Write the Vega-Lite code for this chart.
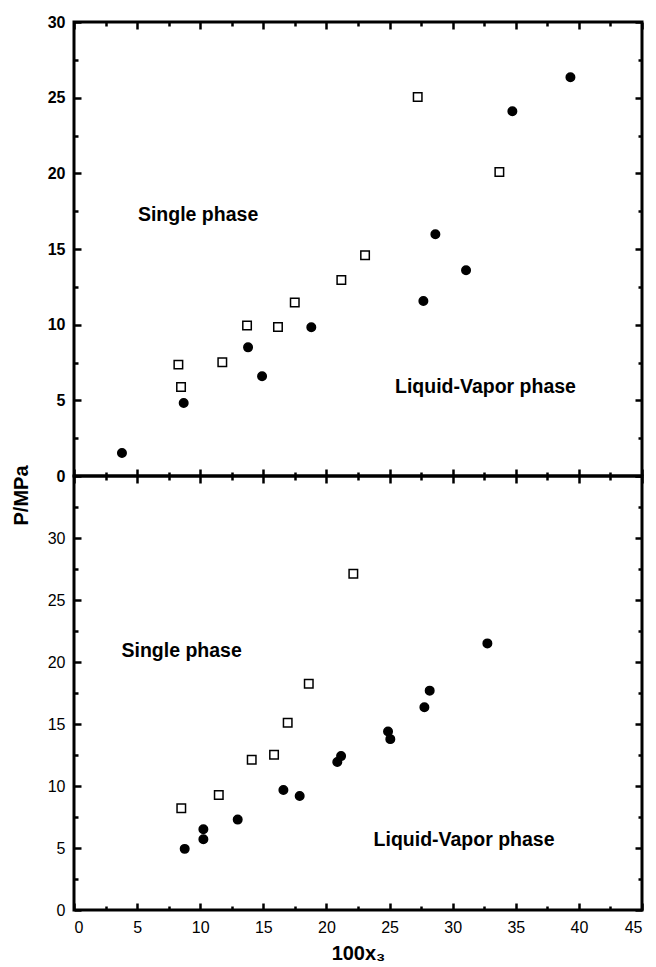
{
  "$schema": "https://vega.github.io/schema/vega-lite/v6.json",
  "background": "white",
  "padding": {"left": 9, "top": 12, "right": 8, "bottom": 5},
  "datasets": {
    "top": [
      {"x": 3.8, "p": 1.52, "series": "circle"},
      {"x": 8.69, "p": 4.82, "series": "circle"},
      {"x": 13.79, "p": 8.5, "series": "circle"},
      {"x": 14.9, "p": 6.59, "series": "circle"},
      {"x": 18.8, "p": 9.83, "series": "circle"},
      {"x": 27.68, "p": 11.57, "series": "circle"},
      {"x": 28.63, "p": 15.97, "series": "circle"},
      {"x": 31.06, "p": 13.6, "series": "circle"},
      {"x": 34.73, "p": 24.1, "series": "circle"},
      {"x": 39.33, "p": 26.35, "series": "circle"},
      {"x": 8.27, "p": 7.36, "series": "square"},
      {"x": 8.48, "p": 5.88, "series": "square"},
      {"x": 11.75, "p": 7.51, "series": "square"},
      {"x": 13.71, "p": 9.94, "series": "square"},
      {"x": 16.16, "p": 9.85, "series": "square"},
      {"x": 17.49, "p": 11.46, "series": "square"},
      {"x": 21.18, "p": 12.95, "series": "square"},
      {"x": 23.06, "p": 14.58, "series": "square"},
      {"x": 27.23, "p": 25.05, "series": "square"},
      {"x": 33.7, "p": 20.09, "series": "square"}
    ],
    "bottom": [
      {"x": 8.77, "p": 4.93, "series": "circle"},
      {"x": 10.25, "p": 6.51, "series": "circle"},
      {"x": 10.25, "p": 5.71, "series": "circle"},
      {"x": 12.97, "p": 7.29, "series": "circle"},
      {"x": 16.59, "p": 9.68, "series": "circle"},
      {"x": 17.88, "p": 9.2, "series": "circle"},
      {"x": 20.86, "p": 11.93, "series": "circle"},
      {"x": 21.16, "p": 12.41, "series": "circle"},
      {"x": 24.88, "p": 14.39, "series": "circle"},
      {"x": 25.06, "p": 13.78, "series": "circle"},
      {"x": 27.76, "p": 16.35, "series": "circle"},
      {"x": 28.18, "p": 17.69, "series": "circle"},
      {"x": 32.75, "p": 21.5, "series": "circle"},
      {"x": 8.5, "p": 8.2, "series": "square"},
      {"x": 11.47, "p": 9.28, "series": "square"},
      {"x": 14.08, "p": 12.11, "series": "square"},
      {"x": 15.85, "p": 12.52, "series": "square"},
      {"x": 16.93, "p": 15.11, "series": "square"},
      {"x": 18.6, "p": 18.25, "series": "square"},
      {"x": 22.13, "p": 27.12, "series": "square"}
    ],
    "topText": [
      {"x": 9.83, "p": 17.25, "label": "Single phase"},
      {"x": 32.6, "p": 5.88, "label": "Liquid-Vapor phase"}
    ],
    "bottomText": [
      {"x": 8.53, "p": 20.85, "label": "Single phase"},
      {"x": 30.9, "p": 5.66, "label": "Liquid-Vapor phase"}
    ]
  },
  "vconcat": [
    {
      "width": 568,
      "height": 454,
      "resolve": {"axis": {"x": "independent", "y": "independent"}},
      "layer": [
        {
          "data": {"name": "top"},
          "mark": {"type": "point", "size": 72, "stroke": "black", "strokeWidth": 1.5, "opacity": 1},
          "encoding": {
            "x": {"field": "x", "type": "quantitative", "scale": {"domain": [0, 45], "nice": false},
              "axis": {"orient": "bottom", "values": [0,5,10,15,20,25,30,35,40,45], "labels": false, "title": null, "tickSize": 7, "offset": -7}},
            "y": {"field": "p", "type": "quantitative", "scale": {"domain": [0, 30], "nice": false},
              "axis": {"orient": "left", "values": [0,5,10,15,20,25,30], "tickSize": 7, "offset": -7, "labelPadding": 9,
                "labelFontWeight": "bold",
                "title": "P/MPa", "titleFontSize": 20, "titleFontWeight": "bold", "titleAngle": 270,
                "titleAlign": "center", "titleBaseline": "middle", "titleX": -60, "titleY": 473}},
            "shape": {"field": "series", "type": "nominal", "scale": {"domain": ["circle", "square"], "range": ["circle", "square"]}, "legend": null},
            "fill": {"field": "series", "type": "nominal", "scale": {"domain": ["circle", "square"], "range": ["black", "white"]}, "legend": null}
          }
        },
        {
          "data": {"name": "topText"},
          "mark": {"type": "text", "font": "Liberation Sans", "fontWeight": "bold", "fontSize": 19.5, "color": "black", "align": "center", "baseline": "middle"},
          "encoding": {
            "x": {"field": "x", "type": "quantitative",
              "axis": {"orient": "top", "values": [0,5,10,15,20,25,30,35,40,45], "labels": false, "title": null, "tickSize": 7, "offset": -7}},
            "y": {"field": "p", "type": "quantitative",
              "axis": {"orient": "right", "values": [0,5,10,15,20,25,30], "labels": false, "title": null, "tickSize": 7, "offset": -7}},
            "text": {"field": "label", "type": "nominal"}
          }
        },
        {
          "data": {"name": "topText"},
          "mark": {"type": "point", "opacity": 0},
          "encoding": {
            "x": {"field": "x", "type": "quantitative",
              "axis": {"orient": "bottom", "values": [2.5,7.5,12.5,17.5,22.5,27.5,32.5,37.5,42.5], "labels": false, "title": null, "tickSize": 4, "offset": -4}},
            "y": {"field": "p", "type": "quantitative",
              "axis": {"orient": "left", "values": [2.5,7.5,12.5,17.5,22.5,27.5], "labels": false, "title": null, "tickSize": 4, "offset": -4}}
          }
        },
        {
          "data": {"name": "topText"},
          "mark": {"type": "point", "opacity": 0},
          "encoding": {
            "x": {"field": "x", "type": "quantitative",
              "axis": {"orient": "top", "values": [2.5,7.5,12.5,17.5,22.5,27.5,32.5,37.5,42.5], "labels": false, "title": null, "tickSize": 4, "offset": -4}},
            "y": {"field": "p", "type": "quantitative",
              "axis": {"orient": "right", "values": [2.5,7.5,12.5,17.5,22.5,27.5], "labels": false, "title": null, "tickSize": 4, "offset": -4}}
          }
        }
      ]
    },
    {
      "width": 568,
      "height": 434,
      "resolve": {"axis": {"x": "independent", "y": "independent"}},
      "layer": [
        {
          "data": {"name": "bottom"},
          "mark": {"type": "point", "size": 72, "stroke": "black", "strokeWidth": 1.5, "opacity": 1},
          "encoding": {
            "x": {"field": "x", "type": "quantitative", "scale": {"domain": [0, 45], "nice": false},
              "axis": {"orient": "bottom", "values": [0,5,10,15,20,25,30,35,40,45], "tickSize": 7, "offset": -7, "labelPadding": 9,
                "title": "100x₃", "titleFontSize": 20, "titleFontWeight": "bold", "titlePadding": 8}},
            "y": {"field": "p", "type": "quantitative", "scale": {"domain": [0, 35], "nice": false},
              "axis": {"orient": "left", "values": [0,5,10,15,20,25,30], "tickSize": 7, "offset": -7, "labelPadding": 9, "title": null}},
            "shape": {"field": "series", "type": "nominal", "scale": {"domain": ["circle", "square"], "range": ["circle", "square"]}, "legend": null},
            "fill": {"field": "series", "type": "nominal", "scale": {"domain": ["circle", "square"], "range": ["black", "white"]}, "legend": null}
          }
        },
        {
          "data": {"name": "bottomText"},
          "mark": {"type": "text", "font": "Liberation Sans", "fontWeight": "bold", "fontSize": 19.5, "color": "black", "align": "center", "baseline": "middle"},
          "encoding": {
            "x": {"field": "x", "type": "quantitative",
              "axis": {"orient": "top", "values": [0,5,10,15,20,25,30,35,40,45], "labels": false, "title": null, "tickSize": 7, "offset": -7}},
            "y": {"field": "p", "type": "quantitative",
              "axis": {"orient": "right", "values": [0,5,10,15,20,25,30,35], "labels": false, "title": null, "tickSize": 7, "offset": -7}},
            "text": {"field": "label", "type": "nominal"}
          }
        },
        {
          "data": {"name": "bottomText"},
          "mark": {"type": "point", "opacity": 0},
          "encoding": {
            "x": {"field": "x", "type": "quantitative",
              "axis": {"orient": "bottom", "values": [2.5,7.5,12.5,17.5,22.5,27.5,32.5,37.5,42.5], "labels": false, "title": null, "tickSize": 4, "offset": -4}},
            "y": {"field": "p", "type": "quantitative",
              "axis": {"orient": "left", "values": [2.5,7.5,12.5,17.5,22.5,27.5,32.5], "labels": false, "title": null, "tickSize": 4, "offset": -4}}
          }
        },
        {
          "data": {"name": "bottomText"},
          "mark": {"type": "point", "opacity": 0},
          "encoding": {
            "x": {"field": "x", "type": "quantitative",
              "axis": {"orient": "top", "values": [2.5,7.5,12.5,17.5,22.5,27.5,32.5,37.5,42.5], "labels": false, "title": null, "tickSize": 4, "offset": -4}},
            "y": {"field": "p", "type": "quantitative",
              "axis": {"orient": "right", "values": [2.5,7.5,12.5,17.5,22.5,27.5,32.5], "labels": false, "title": null, "tickSize": 4, "offset": -4}}
          }
        }
      ]
    }
  ],
  "spacing": 0,
  "bounds": "flush",
  "config": {
    "view": {"stroke": "black", "strokeWidth": 3},
    "axis": {
      "domain": false, "grid": false, "ticks": true, "zindex": 2,
      "tickColor": "black", "tickWidth": 2.5, "tickOpacity": 1,
      "labelFont": "Liberation Sans", "labelFontSize": 16, "labelColor": "black", "labelPadding": 8,
      "titleFont": "Liberation Sans", "titleColor": "black"
    }
  }
}
